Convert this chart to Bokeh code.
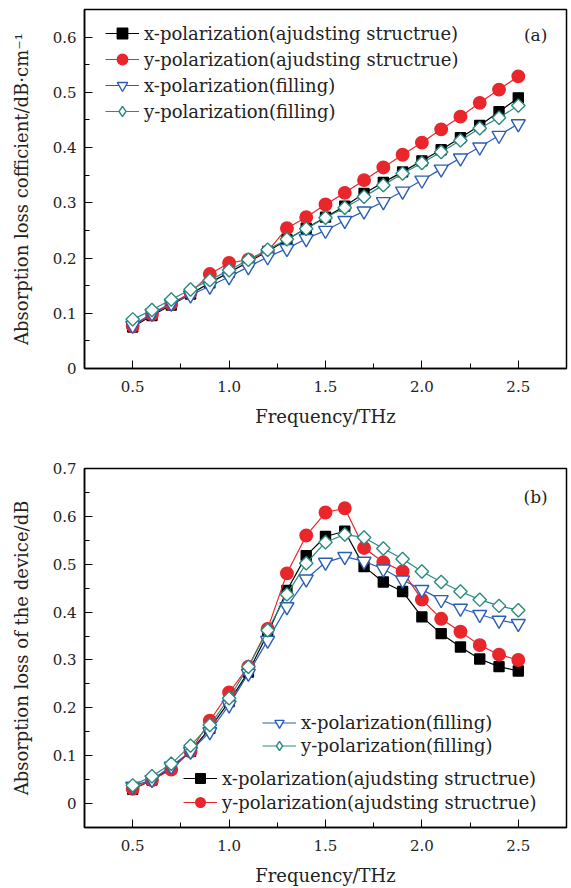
import math
from bokeh.plotting import figure
from bokeh.layouts import column
from bokeh.models import FixedTicker, Legend, LegendItem, Label, NumeralTickFormatter
from bokeh.embed import file_html
from bokeh.resources import INLINE

freq = [0.5, 0.6, 0.7, 0.8, 0.9, 1.0, 1.1, 1.2, 1.3, 1.4, 1.5, 1.6, 1.7, 1.8, 1.9, 2.0, 2.1, 2.2, 2.3, 2.4, 2.5]

# panel (a): absorption loss coefficient
a_x_adj = [0.075, 0.096, 0.115, 0.135, 0.155, 0.174, 0.193, 0.212, 0.233, 0.254, 0.274, 0.294, 0.317, 0.337, 0.356, 0.376, 0.396, 0.418, 0.440, 0.465, 0.490]
a_y_adj = [0.077, 0.098, 0.117, 0.137, 0.171, 0.191, 0.197, 0.212, 0.254, 0.274, 0.297, 0.318, 0.341, 0.364, 0.387, 0.409, 0.433, 0.456, 0.481, 0.505, 0.529]
a_x_fill = [0.078, 0.100, 0.118, 0.133, 0.149, 0.166, 0.184, 0.202, 0.217, 0.235, 0.250, 0.268, 0.285, 0.302, 0.321, 0.341, 0.361, 0.381, 0.401, 0.422, 0.443]
a_y_fill = [0.089, 0.106, 0.125, 0.143, 0.160, 0.178, 0.197, 0.215, 0.234, 0.253, 0.273, 0.291, 0.311, 0.332, 0.353, 0.372, 0.392, 0.413, 0.435, 0.454, 0.476]

# panel (b): absorption loss of the device
b_x_adj = [0.030, 0.049, 0.074, 0.109, 0.157, 0.213, 0.275, 0.355, 0.445, 0.518, 0.558, 0.569, 0.495, 0.463, 0.443, 0.390, 0.355, 0.327, 0.302, 0.286, 0.277]
b_y_adj = [0.031, 0.049, 0.071, 0.109, 0.173, 0.232, 0.286, 0.365, 0.481, 0.560, 0.608, 0.617, 0.534, 0.504, 0.485, 0.426, 0.386, 0.359, 0.331, 0.311, 0.300]
b_x_fill = [0.036, 0.050, 0.078, 0.109, 0.150, 0.206, 0.272, 0.341, 0.411, 0.469, 0.504, 0.516, 0.506, 0.490, 0.467, 0.447, 0.426, 0.408, 0.395, 0.383, 0.376]
b_y_fill = [0.038, 0.057, 0.083, 0.121, 0.164, 0.220, 0.286, 0.362, 0.437, 0.502, 0.546, 0.562, 0.556, 0.533, 0.511, 0.485, 0.463, 0.443, 0.426, 0.413, 0.404]

x_ticks = [0.5, 1.0, 1.5, 2.0, 2.5]
x_minor = [0.75, 1.25, 1.75, 2.25]
a_y_ticks = [0, 0.1, 0.2, 0.3, 0.4, 0.5, 0.6]
a_y_minor = [0.05, 0.15, 0.25, 0.35, 0.45, 0.55]
b_y_ticks = [0, 0.1, 0.2, 0.3, 0.4, 0.5, 0.6, 0.7]
b_y_minor = [0.05, 0.15, 0.25, 0.35, 0.45, 0.55, 0.65]

lab_adj_x = "x-polarization(ajudsting structrue)"
lab_adj_y = "y-polarization(ajudsting structrue)"
lab_fill_x = "x-polarization(filling)"
lab_fill_y = "y-polarization(filling)"

FONT = "DejaVu Serif"
TXT = "#222222"
BLACK = "#000000"
RED = "#e8262b"
BLUE = "#2a5db8"
TEAL = "#2a8a80"


def make_fig(height, bt, bb, yr, yticks, yminor, ylabel):
    p = figure(width=571, height=height, x_range=(0.25, 2.75), y_range=yr,
               output_backend="svg", toolbar_location=None,
               min_border_left=84, min_border_right=5,
               min_border_top=bt, min_border_bottom=bb)
    p.frame_width = 482
    p.frame_height = 359
    p.grid.visible = False
    p.outline_line_color = "black"
    p.outline_line_width = 1.5
    p.outline_line_alpha = 1
    p.background_fill_color = "white"
    p.border_fill_color = "white"
    p.xaxis.ticker = FixedTicker(ticks=x_ticks, minor_ticks=x_minor)
    p.xaxis.formatter = NumeralTickFormatter(format="0.0")
    p.yaxis.ticker = FixedTicker(ticks=yticks, minor_ticks=yminor)
    p.yaxis.major_label_overrides = {0: "0"}
    p.xaxis.axis_label = "Frequency/THz"
    p.yaxis.axis_label = ylabel
    for ax in (p.xaxis, p.yaxis):
        ax.axis_line_color = "black"
        ax.axis_line_width = 1.5
        ax.major_tick_in = 8
        ax.major_tick_out = 0
        ax.minor_tick_in = 5
        ax.minor_tick_out = 0
        ax.major_tick_line_color = "black"
        ax.minor_tick_line_color = "black"
        ax.major_label_text_font = FONT
        ax.major_label_text_font_size = "15px"
        ax.major_label_text_color = TXT
        ax.axis_label_text_font = FONT
        ax.axis_label_text_font_size = "18px"
        ax.axis_label_text_font_style = "normal"
        ax.axis_label_text_color = TXT
    p.xaxis.major_label_standoff = 12
    p.xaxis.axis_label_standoff = 11
    p.yaxis.major_label_standoff = 8
    p.yaxis.axis_label_standoff = 18
    return p


def draw_series(p, xa, ya, xf, yf):
    """Draw the four series; return legend renderer groups."""
    r = []
    specs = [(xa, BLACK, "square", 10, BLACK),
             (ya, RED, "circle", 12.5, RED),
             (xf, BLUE, "inverted_triangle", 14, "white")]
    for ys, color, marker, size, fill in specs:
        l = p.line(freq, ys, line_color=color, line_width=1.2)
        s = p.scatter(freq, ys, marker=marker, size=size, line_color=color,
                      fill_color=fill, line_width=1.4)
        r.append([l, s])
    # open diamonds: rotated squares in the plot; a zero-size diamond glyph on
    # the same data supplies the legend symbol (legend sizes it itself)
    l = p.line(freq, yf, line_color=TEAL, line_width=1.2)
    p.scatter(freq, yf, marker="square", size=9.5, angle=math.pi / 4,
              line_color=TEAL, fill_color="white", line_width=1.4)
    leg_sym = p.scatter(freq, yf, marker="diamond", size=0, line_color=TEAL,
                        fill_color="white", line_width=1.4)
    r.append([l, leg_sym])
    return r


def style_legend(lg, gh):
    lg.border_line_color = None
    lg.background_fill_alpha = 0
    lg.padding = 0
    lg.margin = 0
    lg.spacing = 0
    lg.glyph_width = 34
    lg.glyph_height = gh
    lg.label_height = 20
    lg.label_standoff = 5
    lg.label_text_font = FONT
    lg.label_text_font_size = "18px"
    lg.label_text_color = TXT
    lg.label_text_baseline = "middle"


# ---------- panel (a)
pa = make_fig(448, 9, 80, (0, 0.65), a_y_ticks, a_y_minor,
              "Absorption loss cofficient/dB\u00b7cm\u207b\u00b9")
ra = draw_series(pa, a_x_adj, a_y_adj, a_x_fill, a_y_fill)
leg_a = Legend(items=[LegendItem(label=lab_adj_x, renderers=ra[0]),
                      LegendItem(label=lab_adj_y, renderers=ra[1]),
                      LegendItem(label=lab_fill_x, renderers=ra[2]),
                      LegendItem(label=lab_fill_y, renderers=ra[3])],
               location=(21, 244))
style_legend(leg_a, 26)
pa.add_layout(leg_a, "center")
pa.add_layout(Label(x=2.59, y=0.603, text="(a)", text_font=FONT, text_font_size="17px",
                    text_align="center", text_baseline="middle", text_color=TXT))

# ---------- panel (b)
pb = make_fig(440, 20, 61, (-0.05, 0.7), b_y_ticks, b_y_minor,
              "Absorption loss of the device/dB")
rb = draw_series(pb, b_x_adj, b_y_adj, b_x_fill, b_y_fill)
leg_b1 = Legend(items=[LegendItem(label=lab_fill_x, renderers=rb[2]),
                       LegendItem(label=lab_fill_y, renderers=rb[3])],
                location=(178, 70))
leg_b2 = Legend(items=[LegendItem(label=lab_adj_x, renderers=rb[0]),
                       LegendItem(label=lab_adj_y, renderers=rb[1])],
                location=(99, 13))
style_legend(leg_b1, 23)
style_legend(leg_b2, 24)
pb.add_layout(leg_b1, "center")
pb.add_layout(leg_b2, "center")
pb.add_layout(Label(x=2.59, y=0.641, text="(b)", text_font=FONT, text_font_size="17px",
                    text_align="center", text_baseline="middle", text_color=TXT))

layout = column(pa, pb, spacing=0)
open("out.html", "w").write(file_html(layout, INLINE))
